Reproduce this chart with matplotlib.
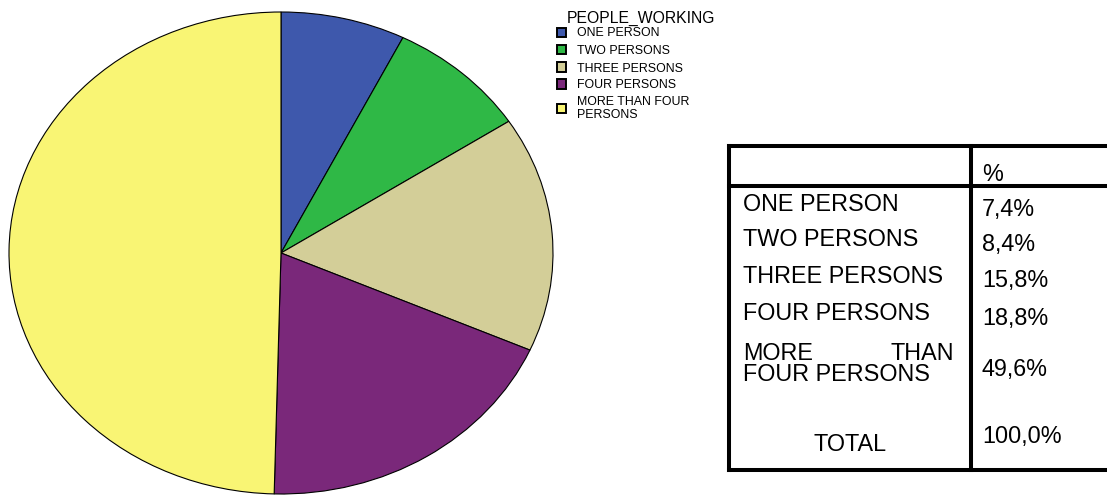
import matplotlib
matplotlib.use("Agg")
import matplotlib.pyplot as plt
from matplotlib.patches import Rectangle
from matplotlib.lines import Line2D

plt.rcParams["font.family"] = ["Liberation Sans", "DejaVu Sans"]

# Udzial gospodarstw wg liczby osob pracujacych
kategorie = ["ONE PERSON", "TWO PERSONS", "THREE PERSONS", "FOUR PERSONS", "MORE THAN FOUR PERSONS"]
etykiety_legendy = ["ONE PERSON", "TWO PERSONS", "THREE PERSONS", "FOUR PERSONS", "MORE THAN FOUR\nPERSONS"]
procenty = [7.4, 8.4, 15.8, 18.8, 49.6]
kolory = ["#3e58ac", "#2fb846", "#d3ce98", "#7a287a", "#f9f574"]

W, H = 1107, 496
fig = plt.figure(figsize=(W / 100, H / 100), dpi=100)


def fx(px):
    return px / W


def fy(py):
    return 1 - py / H


# Wykres kolowy (lekko splaszczony)
ax = fig.add_axes([fx(9), fy(494), fx(544), 482 / H])
ax.pie(procenty, colors=kolory, startangle=90, counterclock=False,
       wedgeprops=dict(edgecolor="black", linewidth=0.8))
ax.set_aspect("auto")
ax.set_xlim(-1, 1)
ax.set_ylim(-1, 1)
ax.axis("off")

# Legenda
fig.text(fx(567), fy(22.5), "PEOPLE_WORKING", fontsize=11.3, va="baseline", ha="left")
srodki = [32.5, 49.5, 67, 84, 108.5]
for y, kolor in zip(srodki, kolory):
    fig.patches.append(Rectangle((fx(557), fy(y + 4.5)), fx(9), 9 / H, facecolor=kolor,
                                 edgecolor="black", linewidth=1.4, transform=fig.transFigure))
bazowe = [36.5, 53.5, 71.5, 88]
for y, tekst in zip(bazowe, etykiety_legendy[:4]):
    fig.text(fx(577), fy(y), tekst, fontsize=8.9, va="baseline", ha="left")
for y, linia in zip([105, 118], etykiety_legendy[4].split("\n")):
    fig.text(fx(577), fy(y), linia, fontsize=8.9, va="baseline", ha="left")

# Tabela z procentami
lw = 2.9
linie = [
    ([729, 1120], [146, 146]),
    ([729, 1120], [470, 470]),
    ([729, 729], [146, 470]),
    ([970.5, 970.5], [146, 470]),
    ([729, 1120], [185.5, 185.5]),
]
for xs, ys in linie:
    fig.add_artist(Line2D([fx(x) for x in xs], [fy(y) for y in ys], color="black", lw=lw,
                          solid_capstyle="projecting"))

fs = 16.8
fig.text(fx(982), fy(181), "%", fontsize=fs, va="baseline", ha="left")
wiersze_y = [211, 246, 283, 320]
for y, nazwa in zip(wiersze_y, kategorie[:4]):
    fig.text(fx(743), fy(y), nazwa, fontsize=fs, va="baseline", ha="left")
fig.text(fx(743), fy(360), "MORE", fontsize=fs, va="baseline", ha="left")
fig.text(fx(954), fy(360), "THAN", fontsize=fs, va="baseline", ha="right")
fig.text(fx(743), fy(381), "FOUR PERSONS", fontsize=fs, va="baseline", ha="left")
fig.text(fx(850), fy(451), "TOTAL", fontsize=fs, va="baseline", ha="center")

wartosci_y = [216, 251, 287, 325, 376]
for y, p in zip(wartosci_y, procenty):
    fig.text(fx(982), fy(y), f"{p:.1f}%".replace(".", ","), fontsize=fs, va="baseline", ha="left")
fig.text(fx(982), fy(443), f"{sum(procenty):.1f}%".replace(".", ","), fontsize=fs,
         va="baseline", ha="left")

fig.savefig("out.png", dpi=100)
